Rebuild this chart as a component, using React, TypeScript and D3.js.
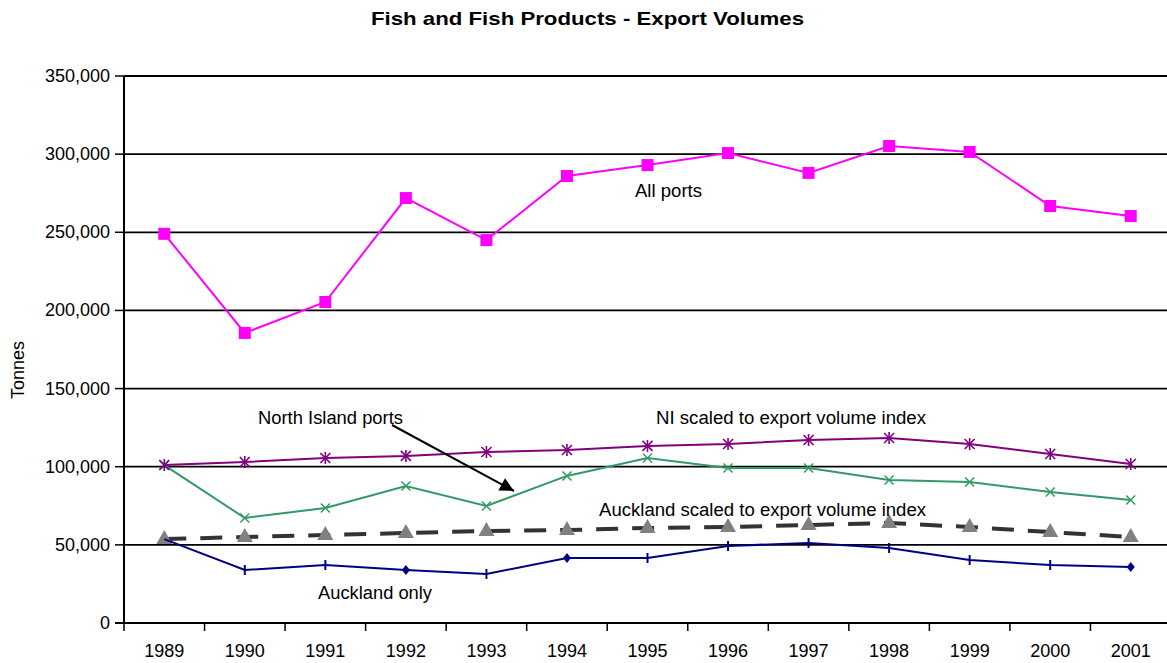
import React from "react";
import * as d3 from "d3";

const years = ["1989","1990","1991","1992","1993","1994","1995","1996","1997","1998","1999","2000","2001"];
const allPorts = [249000,185600,205400,271900,245000,286000,293000,300700,288000,305200,301400,266800,260400];
const niScaled = [101100,103000,105600,106900,109400,110700,113300,114500,117100,118400,114500,108100,101700];
const northIsland = [101000,67200,73600,87700,74900,94100,105600,99200,99200,91500,90200,83800,78700];
const aklScaled = [53700,55000,56300,57600,58900,59500,60800,61400,62700,64000,61400,58200,55000];
const aklOnly = [53700,33900,37100,33900,31400,41600,41600,49300,51200,48000,40300,37100,35800];
const aklDiamondYears = ["1992","1994","2001"];
const yTicks = [0,50000,100000,150000,200000,250000,300000,350000];

const W = 1167, H = 663;
const left = 124, right = 1171, top = 76, bottom = 623;
const FONT = "Liberation Sans, Arial, sans-serif";
const FS = 18;

export default function App() {
  const x = d3.scaleBand<string>().domain(years).range([left, right]);
  const y = d3.scaleLinear().domain([0, 350000]).range([bottom, top]);
  const cx = (yr: string) => (x(yr) as number) + x.bandwidth() / 2;
  const line = (vals: number[]) =>
    d3.line<number>().x((_, i) => cx(years[i])).y((v) => y(v))(vals) as string;
  const fmt = d3.format(",");

  const star = (px: number, py: number, c: string, k: string) => {
    const r = 5;
    return (
      <g key={k} stroke={c} strokeWidth={1.6}>
        <line x1={px - r} y1={py - r} x2={px + r} y2={py + r} />
        <line x1={px - r} y1={py + r} x2={px + r} y2={py - r} />
        <line x1={px} y1={py - r - 1} x2={px} y2={py + r + 1} />
      </g>
    );
  };
  const cross = (px: number, py: number, c: string, k: string) => {
    const r = 4.5;
    return (
      <g key={k} stroke={c} strokeWidth={1.5}>
        <line x1={px - r} y1={py - r} x2={px + r} y2={py + r} />
        <line x1={px - r} y1={py + r} x2={px + r} y2={py - r} />
      </g>
    );
  };

  return (
    <svg width={W} height={H} style={{ display: "block", position: "absolute", left: 0, top: 0 }} fontFamily={FONT}>
      <rect width={W} height={H} fill="#fff" />
      <defs>
        <marker id="arr2" viewBox="0 0 10 10" refX="10" refY="5" markerWidth="16" markerHeight="14" orient="auto" markerUnits="userSpaceOnUse">
          <path d="M0,0 L10,5 L0,10 z" fill="#000" />
        </marker>
      </defs>
      <text x={371} y={25} fontSize={19} fontWeight="bold" textLength={433} lengthAdjust="spacingAndGlyphs">Fish and Fish Products - Export Volumes</text>

      {/* gridlines */}
      {yTicks.map((t) => (
        <g key={t}>
          {t > 0 && <line x1={left} x2={W} y1={y(t)} y2={y(t)} stroke="#000" strokeWidth={1.8} />}
          <line x1={left - 9} x2={left} y1={y(t)} y2={y(t)} stroke="#000" strokeWidth={1.5} />
          <text x={left - 14} y={y(t) + 6} textAnchor="end" fontSize={FS}>{fmt(t)}</text>
        </g>
      ))}
      <text transform={`translate(24,370) rotate(-90)`} textAnchor="middle" fontSize={FS}>Tonnes</text>

      {/* axes */}
      <line x1={left} x2={left} y1={top} y2={bottom + 1} stroke="#000" strokeWidth={2} />
      <line x1={left - 9} x2={W} y1={bottom} y2={bottom} stroke="#000" strokeWidth={2} />
      {years.map((yr) => (
        <g key={yr}>
          <line x1={(x(yr) as number)} x2={(x(yr) as number)} y1={bottom} y2={bottom + 8} stroke="#000" strokeWidth={1.5} />
          <text x={cx(yr)} y={657} textAnchor="middle" fontSize={FS}>{yr}</text>
        </g>
      ))}

      {/* Auckland scaled */}
      <path d={line(aklScaled)} fill="none" stroke="#333" strokeWidth={4} strokeDasharray="22,14" />
      {aklScaled.map((v, i) => {
        const px = cx(years[i]), py = y(v);
        return <path key={i} d={`M${px},${py - 9} L${px + 8},${py + 5} L${px - 8},${py + 5} Z`} fill="#808080" />;
      })}

      {/* Auckland only */}
      <path d={line(aklOnly)} fill="none" stroke="#000080" strokeWidth={2} />
      {aklOnly.map((v, i) => {
        const px = cx(years[i]), py = y(v);
        if (i === 0) return null;
        if (aklDiamondYears.includes(years[i]))
          return <path key={i} d={`M${px},${py - 5} L${px + 4},${py} L${px},${py + 5} L${px - 4},${py} Z`} fill="#000080" />;
        return <line key={i} x1={px} x2={px} y1={py - 5} y2={py + 5} stroke="#000080" strokeWidth={2} />;
      })}

      {/* North Island ports */}
      <path d={line(northIsland)} fill="none" stroke="#339966" strokeWidth={2} />
      {northIsland.map((v, i) => cross(cx(years[i]), y(v), "#339966", "n" + i))}

      {/* NI scaled */}
      <path d={line(niScaled)} fill="none" stroke="#800080" strokeWidth={2} />
      {niScaled.map((v, i) => star(cx(years[i]), y(v), "#800080", "s" + i))}

      {/* All ports */}
      <path d={line(allPorts)} fill="none" stroke="#ff00ff" strokeWidth={2} />
      {allPorts.map((v, i) => {
        const px = cx(years[i]), py = y(v);
        return <rect key={i} x={px - 6} y={py - 6} width={12} height={12} fill="#ff00ff" />;
      })}

      {/* annotations */}
      <text x={635} y={197} fontSize={FS} textLength={67} lengthAdjust="spacingAndGlyphs">All ports</text>
      <text x={258} y={424} fontSize={FS} textLength={145} lengthAdjust="spacingAndGlyphs">North Island ports</text>
      <text x={656} y={424} fontSize={FS} textLength={270} lengthAdjust="spacingAndGlyphs">NI scaled to export volume index</text>
      <text x={599} y={516} fontSize={FS} textLength={327} lengthAdjust="spacingAndGlyphs">Auckland scaled to export volume index</text>
      <text x={318} y={599} fontSize={FS} textLength={114} lengthAdjust="spacingAndGlyphs">Auckland only</text>
      <line x1={392} y1={425} x2={514} y2={491} stroke="#000" strokeWidth={2} markerEnd="url(#arr2)" />
    </svg>
  );
}
